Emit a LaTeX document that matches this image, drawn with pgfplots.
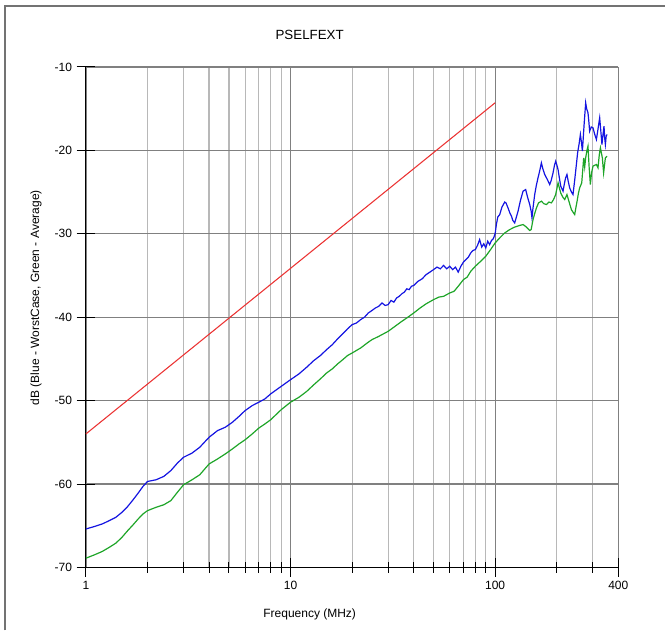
\documentclass[border=0pt]{standalone}
\usepackage{fontspec}
\setmainfont{Liberation Sans}
\usepackage{pgfplots}
\pgfplotsset{compat=1.18}
\definecolor{wcblue}{RGB}{20,20,225}
\definecolor{avgreen}{RGB}{30,165,40}
\definecolor{limred}{RGB}{235,50,50}
\begin{document}
\begin{tikzpicture}
\begin{axis}[
    xmode=log,
    xmin=1, xmax=400, ymin=-70, ymax=-10,
    scale only axis,
    width=399.75pt, height=375.75pt,
    axis lines=left,
    axis line style={-, black, line width=0.8pt},
    xtick={1,10,100,400}, xticklabels={1,10,100,400},
    minor xtick={2,3,4,5,6,7,8,9,20,30,40,50,60,70,80,90,200,300},
    ytick={-70,-60,-50,-40,-30,-20,-10},
    yticklabels={-70,-60,-50,-40,-30,-20,-10},
    tick align=center,
    major tick length=14pt, minor tick length=8pt,
    tick style={black, line width=0.7pt},
    grid=both,
    major grid style={black!50, line width=0.9pt},
    minor grid style={black!28, line width=0.9pt},
    tick label style={font=\fontsize{9}{10}\selectfont},
    clip=false,
]
% limit line
\addplot[limred, line width=0.8pt] coordinates {(1,-54.0) (100,-14.3)};
% worst case
\addplot[wcblue, line width=0.9pt] coordinates {
(1,-65.4) (1.1,-65.1) (1.2,-64.8) (1.3,-64.4) (1.4,-64.0) (1.5,-63.4) (1.6,-62.7)
(1.7,-61.9) (1.8,-61.1) (1.9,-60.3) (2.0,-59.7) (2.2,-59.5) (2.4,-59.1) (2.6,-58.4)
(2.8,-57.5) (3.0,-56.8) (3.3,-56.3) (3.6,-55.6) (4.0,-54.4) (4.4,-53.6) (4.8,-53.2)
(5.2,-52.6) (5.6,-51.9) (6.0,-51.2) (6.5,-50.6) (7.0,-50.2) (7.5,-49.8) (8.0,-49.2)
(9.0,-48.3) (10,-47.5) (11,-46.8) (12,-46.0) (13,-45.2) (14,-44.6) (15,-43.9)
(16,-43.3) (17,-42.6) (18,-42.0) (19,-41.4) (20,-40.9) (21,-40.7) (22,-40.3)
(23,-40.0) (24,-39.5) (25,-39.2) (26,-38.9) (27,-38.7) (28,-38.3) (29,-38.6)
(30,-38.5) (31,-38.0) (32,-38.2) (33,-37.7) (34,-37.5) (35,-37.2) (36,-37.0)
(37,-36.6) (38,-36.7) (39,-36.3) (40,-36.2) (42,-35.7) (44,-35.4) (46,-34.9)
(48,-34.6) (50,-34.3) (52,-34.0) (54,-34.2) (56,-33.8) (58,-34.2) (60,-33.9)
(62,-34.3) (64,-34.0) (66,-34.6) (68,-33.9) (70,-33.4) (72,-33.1) (74,-32.8)
(76,-32.3) (78,-32.0) (80,-31.9) (82,-31.4) (84,-30.7) (86,-31.6) (88,-31.2)
(90,-31.7) (92,-30.9) (94,-31.3) (96,-30.8) (98,-30.6) (100,-30.0) (101.4,-28.9)
(103,-28.0) (105.3,-27.7) (108,-26.8) (111.4,-26.2) (113,-26.3) (115.6,-26.9)
(118,-27.5) (120.2,-27.9) (122,-28.4) (124.6,-28.7) (127,-28.0) (129.4,-27.3)
(133,-26.0) (136.9,-24.9) (141,-24.7) (144,-25.6) (147.6,-26.5) (150,-27.3)
(151.4,-28.1) (153,-27.0) (156.1,-25.3) (159,-24.2) (162,-23.3) (165,-22.5)
(168.3,-21.5) (171,-22.2) (174.7,-22.9) (180,-23.5) (184.8,-24.1) (188,-23.6)
(191.9,-22.7) (195,-21.8) (197.7,-21.3) (200,-21.7) (203,-22.3) (206,-23.3)
(209.2,-24.3) (212,-24.6) (214.7,-24.9) (218,-24.0) (221,-23.3) (224.4,-22.9)
(228,-23.8) (231.4,-24.5) (236,-25.0) (240.2,-25.3) (245,-23.5) (249.5,-21.7)
(253,-20.3) (257,-19.3) (261,-18.1) (264,-19.0) (267,-20.1) (272,-17.0)
(277,-14.3) (280,-15.0) (284.3,-15.5) (287,-16.5) (289.7,-17.7) (295,-17.2)
(300.8,-17.3) (306,-18.0) (312.6,-18.7) (318,-17.5) (324.3,-16.1) (328,-17.5)
(332.7,-19.3) (337,-18.0) (340.5,-17.1) (343,-18.5) (345.8,-19.3) (349,-18.3)
(352.4,-18.1)
};
% average
\addplot[avgreen, line width=0.9pt] coordinates {
(1,-68.9) (1.1,-68.5) (1.2,-68.1) (1.3,-67.6) (1.4,-67.1) (1.5,-66.4) (1.6,-65.6)
(1.7,-64.9) (1.8,-64.2) (1.9,-63.6) (2.0,-63.2) (2.2,-62.8) (2.4,-62.5) (2.6,-62.0)
(2.8,-61.0) (3.0,-60.1) (3.3,-59.5) (3.6,-58.9) (4.0,-57.6) (4.4,-57.0) (4.8,-56.4)
(5.2,-55.8) (5.6,-55.2) (6.0,-54.7) (6.5,-54.0) (7.0,-53.3) (7.5,-52.8) (8.0,-52.3)
(9.0,-51.1) (10,-50.2) (11,-49.6) (12,-48.9) (13,-48.1) (14,-47.4) (15,-46.7)
(16,-46.2) (17,-45.6) (18,-45.1) (19,-44.6) (20,-44.3) (22,-43.7) (24,-43.0)
(25,-42.7) (27,-42.3) (30,-41.7) (32,-41.2) (35,-40.5) (37,-40.1) (40,-39.5)
(43,-38.9) (46,-38.4) (50,-37.9) (53,-37.6) (56,-37.5) (60,-37.1) (63,-36.9)
(66,-36.3) (70,-35.5) (73,-35.2) (76,-34.5) (80,-33.9) (85,-33.3) (90,-32.7)
(95,-31.9) (100,-31.1) (105.3,-30.5) (111.4,-29.9) (117.8,-29.5) (124.6,-29.2)
(131.9,-29.0) (137,-28.9) (142.2,-29.2) (147.6,-29.6) (150,-29.5) (153.2,-28.3)
(156,-27.6) (159.2,-26.9) (163,-26.3) (168.3,-26.1) (173,-26.4) (178.1,-26.5)
(183,-26.2) (188.4,-26.3) (193,-25.9) (197.7,-25.3) (203,-23.9) (206,-24.5)
(209.2,-25.1) (214,-25.6) (218.8,-25.9) (224.4,-25.3) (230,-26.2) (235.8,-27.1)
(240,-27.4) (244.8,-27.7) (248,-26.9) (251.5,-26.1) (255,-25.2) (258.9,-24.5)
(265,-23.9) (270.9,-20.9) (274,-22.0) (277,-20.9) (281,-20.0) (284.3,-19.5)
(288,-22.0) (292,-24.1) (296,-22.7) (300.8,-21.9) (306,-21.8) (312.6,-21.7)
(318.2,-22.1) (323,-20.5) (327,-19.7) (334.2,-20.9) (339,-22.7) (345.8,-20.9)
(352.4,-20.7)
};
\end{axis}
% titles and labels
\node[font=\fontsize{10}{12}\selectfont] at (168pt,399.75pt) {PSELFEXT};
\node[font=\fontsize{9}{11}\selectfont] at (168pt,-35.25pt) {Frequency (MHz)};
\node[font=\fontsize{9}{11}\selectfont, rotate=90] at (-37.5pt,202.5pt)
    {dB (Blue - WorstCase, Green - Average)};
% outer frame (top and left edges only)
\draw[black!55, line width=1.1pt] (-60.75pt,-47.25pt) -- (-60.75pt,421.5pt) -- (435pt,421.5pt);
\path[use as bounding box] (-64.5pt,-47.25pt) rectangle (435pt,426pt);
\end{tikzpicture}
\end{document}
